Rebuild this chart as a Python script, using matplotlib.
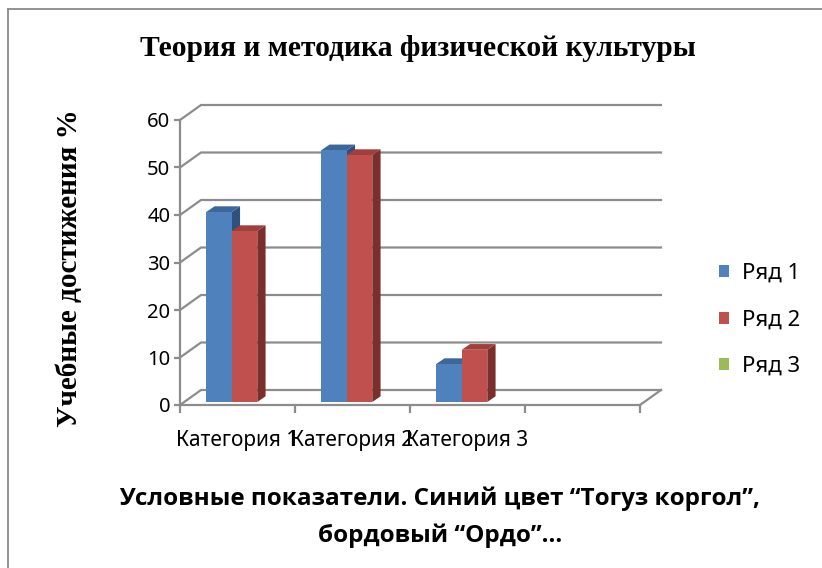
import matplotlib
matplotlib.use('Agg')
from matplotlib import pyplot as plt
from matplotlib.patches import Polygon, Patch
from matplotlib.lines import Line2D

categories = ['Категория 1', 'Категория 2', 'Категория 3']
series_names = ['Ряд 1', 'Ряд 2', 'Ряд 3']
row1 = [40, 53, 8]
row2 = [36, 52, 11]
row3 = [0, 0, 0]
y_ticks = [0, 10, 20, 30, 40, 50, 60]

title = 'Теория и методика физической культуры'
y_label = 'Учебные достижения %'
x_label = 'Условные показатели. Синий цвет “Тогуз коргол”,\nбордовый “Ордо”…'

front_colors = ['#4F81BD', '#C0504D', '#9BBB59']
top_colors = ['#3C679B', '#A03F3C', '#7E9A48']
side_colors = ['#2F5180', '#7B2F2D', '#6A8240']
grid_color = '#8C8C8C'
sans = ['Noto Sans', 'DejaVu Sans']
bold_sans = ['Open Sans', 'DejaVu Sans']
serif = ['Liberation Serif', 'DejaVu Serif']

W, H = 822, 568
fig = plt.figure(figsize=(W / 100, H / 100), dpi=100)

# front plane of the pseudo-3D box: x 180..640 px, y 405..120 px
ax = fig.add_axes([180 / W, 1 - 405 / H, 460 / W, 285 / H])
n_slots = 4
ax.set_xlim(0, n_slots)
ax.set_ylim(0, 60)

# wall depth in data units
DX = 21 / 115
DY = 15 / 4.75

for v in y_ticks:
    ax.plot([0, DX, n_slots + DX], [v, v + DY, v + DY], color=grid_color,
            lw=1.6, clip_on=False, zorder=1)
ax.plot([n_slots, n_slots + DX], [0, DY], color=grid_color, lw=1.6,
        clip_on=False, zorder=1)

# bars: front faces through ax.bar, depth faces as polygons
bw = 0.222
base = 0.63
ddx = 8.3 / 115
ddy = 5.7 / 4.75
all_rows = [row1, row2, row3]
handles = []
for s, vals in enumerate(all_rows):
    xs = [i + 0.45 + (s - 1) * bw for i in range(len(categories))]
    z = 3 + s
    ax.bar(xs, vals, width=bw, bottom=base, align='edge',
           color=front_colors[s], lw=0, zorder=z + 0.5)
    for x, v in zip(xs, vals):
        if v <= 0:
            continue
        top = base + v
        side = Polygon([(x + bw, base), (x + bw + ddx, base + ddy),
                        (x + bw + ddx, top + ddy), (x + bw, top)],
                       closed=True, fc=side_colors[s], lw=0, zorder=z,
                       clip_on=False)
        lid = Polygon([(x, top), (x + ddx, top + ddy),
                       (x + bw + ddx, top + ddy), (x + bw, top)],
                      closed=True, fc=top_colors[s], lw=0, zorder=z,
                      clip_on=False)
        ax.add_patch(side)
        ax.add_patch(lid)
    handles.append(Patch(facecolor=front_colors[s], label=series_names[s]))

for sp in ['top', 'right']:
    ax.spines[sp].set_visible(False)
for sp in ['left', 'bottom']:
    ax.spines[sp].set_color(grid_color)
    ax.spines[sp].set_linewidth(1.6)

ax.set_yticks(y_ticks)
ax.set_yticklabels([str(v) for v in y_ticks], fontsize=14.5, family=sans)
ax.set_xticks(range(n_slots + 1))
ax.set_xticklabels([])
ax.set_xticks([i + 0.5 for i in range(len(categories))], minor=True)
ax.set_xticklabels(categories, minor=True, fontsize=15, family=sans)
ax.tick_params(axis='y', length=4, width=1.6, color=grid_color, pad=3)
ax.tick_params(axis='x', which='major', length=6, width=1.6,
               color=grid_color)
ax.tick_params(axis='x', which='minor', length=0, pad=18)
ax.set_facecolor('none')

fig.text(418 / W, 1 - 49 / H, title, ha='center', va='center',
         fontsize=21.3, fontweight='bold', family=serif)
fig.text(70 / W, 1 - 268 / H, y_label, ha='center', va='center',
         rotation=90, fontsize=21, fontweight='bold', family=serif)
fig.text(440 / W, 1 - 517 / H, x_label, ha='center', va='center',
         fontsize=17.5, fontweight='bold', family=bold_sans, linespacing=1.7)

fig.legend(handles=handles, loc='center left',
           bbox_to_anchor=(699 / W, 1 - 320 / H), frameon=False,
           prop={'family': sans, 'size': 16}, handlelength=0.45,
           handleheight=0.45, handletextpad=0.6, labelspacing=1.15)

# chart border (left and top edges visible)
fig.add_artist(Line2D([8 / W, 8 / W], [0, 1 - 9 / H], color='#8A8A8A',
                      lw=1.3))
fig.add_artist(Line2D([8 / W, 1], [1 - 9 / H, 1 - 9 / H], color='#8A8A8A',
                      lw=1.3))

fig.savefig('out.png', dpi=100)
